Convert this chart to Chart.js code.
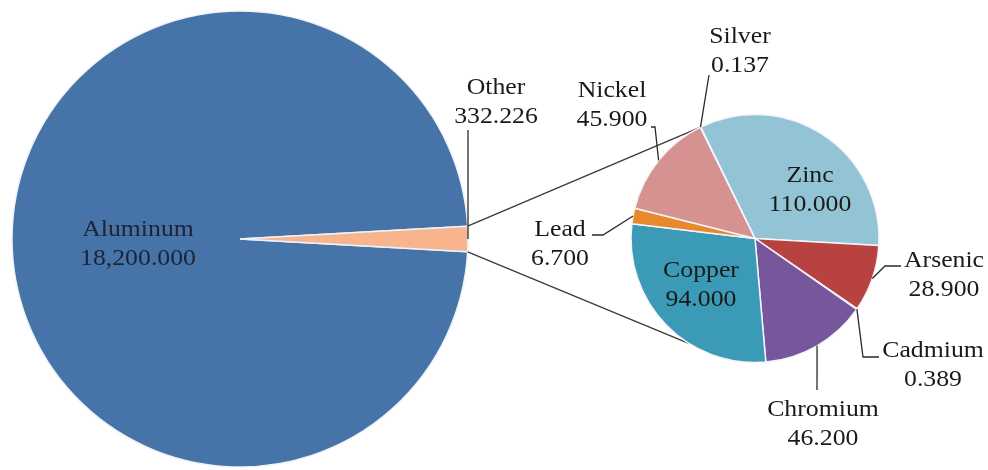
<!DOCTYPE html>
<html>
<head>
<meta charset="utf-8">
<script src="https://cdn.jsdelivr.net/npm/chart.js@4.4.0/dist/chart.umd.min.js"></script>
<style>
  body { margin: 0; background: #fff; }
  #wrap { position: relative; width: 988px; height: 470px; }
  #wrap canvas { position: absolute; left: 0; top: 0; }
</style>
</head>
<body>
<div id="wrap">
  <canvas id="mainPie" width="988" height="470"></canvas>
  <canvas id="subPie" width="988" height="470"></canvas>
</div>
<script>
const mainLabels = ['Aluminum', 'Other'];
const mainValues = [18200, 332.226];
const mainColors = ['#4673a8', '#f8b48c'];

const subLabels = ['Zinc', 'Arsenic', 'Cadmium', 'Chromium', 'Copper', 'Lead', 'Nickel', 'Silver'];
const subValues = [110, 28.9, 0.389, 46.2, 94, 6.7, 45.9, 0.137];
const subColors = ['#93c4d6', '#b8423f', '#a9c16a', '#76579c', '#3b9ab6', '#e8892e', '#d69291', '#c0c0c0'];

// text spot for each label: center x, baseline of first line
const labelSpots = {
    Aluminum: [138, 236],
    Other: [496, 94],
    Zinc: [810, 182],
    Arsenic: [944, 267],
    Cadmium: [933, 357],
    Chromium: [823, 416],
    Copper: [701, 277],
    Lead: [560, 236],
    Nickel: [612, 97],
    Silver: [740, 43]
};
// leader line elbows, from the label side towards the slice
const leaders = {
    Other: [[468, 130]],
    Arsenic: [[901, 266], [885, 266]],
    Cadmium: [[879, 357], [863, 357]],
    Chromium: [[817, 390]],
    Lead: [[592, 235], [603, 235]],
    Nickel: [[651, 127], [655, 127]],
    Silver: [[709, 75]]
};

const fontSize = 23;
const stretch = 1.12;
let mainChart;

function fmt(v) {
    return v.toLocaleString('en-US', { minimumFractionDigits: 3, maximumFractionDigits: 3 });
}

function edgePoint(el, angle) {
    const p = el.getProps(['x', 'y', 'outerRadius', 'startAngle', 'endAngle'], true);
    if (angle === undefined) angle = (p.startAngle + p.endAngle) / 2;
    return [p.x + Math.cos(angle) * p.outerRadius, p.y + Math.sin(angle) * p.outerRadius];
}

function drawLabel(ctx, name, value, color) {
    const spot = labelSpots[name];
    ctx.save();
    ctx.fillStyle = color;
    ctx.font = fontSize + 'px "Liberation Serif", "Times New Roman", serif';
    ctx.textAlign = 'center';
    ctx.textBaseline = 'alphabetic';
    ctx.translate(spot[0], spot[1]);
    ctx.scale(stretch, 1);
    ctx.fillText(name, 0, 0);
    ctx.fillText(fmt(value), 0, 29);
    ctx.restore();
}

function drawLeader(ctx, name, el) {
    const pts = leaders[name];
    if (!pts) return;
    const end = edgePoint(el);
    ctx.beginPath();
    ctx.moveTo(pts[0][0], pts[0][1]);
    for (let i = 1; i < pts.length; i++) ctx.lineTo(pts[i][0], pts[i][1]);
    ctx.lineTo(end[0], end[1]);
    ctx.stroke();
}

const pieOfPie = {
    id: 'pieOfPie',
    beforeDatasetsDraw(chart) {
        // connector lines between the "Other" wedge and the second pie
        const ctx = chart.ctx;
        const other = mainChart.getDatasetMeta(0).data[1];
        const op = other.getProps(['startAngle', 'endAngle'], true);
        const first = chart.getDatasetMeta(0).data[0];
        const fp = first.getProps(['startAngle'], true);
        const a = edgePoint(other, op.startAngle);
        const b = edgePoint(other, op.endAngle);
        const c = edgePoint(first, fp.startAngle);
        const d = edgePoint(first, (212 - 90) * Math.PI / 180);
        ctx.save();
        ctx.strokeStyle = '#3a3a3a';
        ctx.lineWidth = 1.3;
        ctx.beginPath();
        ctx.moveTo(a[0], a[1]);
        ctx.lineTo(c[0], c[1]);
        ctx.moveTo(b[0], b[1]);
        ctx.lineTo(d[0], d[1]);
        ctx.stroke();
        ctx.restore();
    },
    afterDraw(chart) {
        const ctx = chart.ctx;
        ctx.save();
        ctx.strokeStyle = '#2a2a2a';
        ctx.lineWidth = 1.3;
        const mainArcs = mainChart.getDatasetMeta(0).data;
        drawLeader(ctx, 'Other', mainArcs[1]);
        const subArcs = chart.getDatasetMeta(0).data;
        subLabels.forEach(function (name, i) {
            drawLeader(ctx, name, subArcs[i]);
        });
        ctx.restore();

        drawLabel(ctx, 'Aluminum', mainValues[0], '#1c2436');
        drawLabel(ctx, 'Other', mainValues[1], '#1a1a1a');
        subLabels.forEach(function (name, i) {
            drawLabel(ctx, name, subValues[i], '#1a1a1a');
        });
    }
};

function createCharts() {
    const mainTotal = mainValues[0] + mainValues[1];
    mainChart = new Chart(document.getElementById('mainPie'), {
        type: 'pie',
        data: {
            labels: mainLabels,
            datasets: [{
                data: mainValues,
                backgroundColor: mainColors,
                borderColor: '#eef3f8',
                borderWidth: 1.5
            }]
        },
        options: {
            responsive: false,
            animation: false,
            radius: 228,
            rotation: 90 + 180 * mainValues[1] / mainTotal,
            layout: { padding: { left: 0, right: 508, top: 8, bottom: 0 } },
            plugins: { legend: { display: false }, tooltip: { enabled: false } }
        }
    });

    new Chart(document.getElementById('subPie'), {
        type: 'pie',
        data: {
            labels: subLabels,
            datasets: [{
                data: subValues,
                backgroundColor: subColors,
                borderColor: '#f4f4f8',
                borderWidth: 1.5
            }]
        },
        options: {
            responsive: false,
            animation: false,
            radius: 124,
            rotation: -26,
            layout: { padding: { left: 631, right: 109, top: 115, bottom: 108 } },
            plugins: { legend: { display: false }, tooltip: { enabled: false } }
        },
        plugins: [pieOfPie]
    });
}

document.addEventListener('DOMContentLoaded', createCharts);
</script>
</body>
</html>
